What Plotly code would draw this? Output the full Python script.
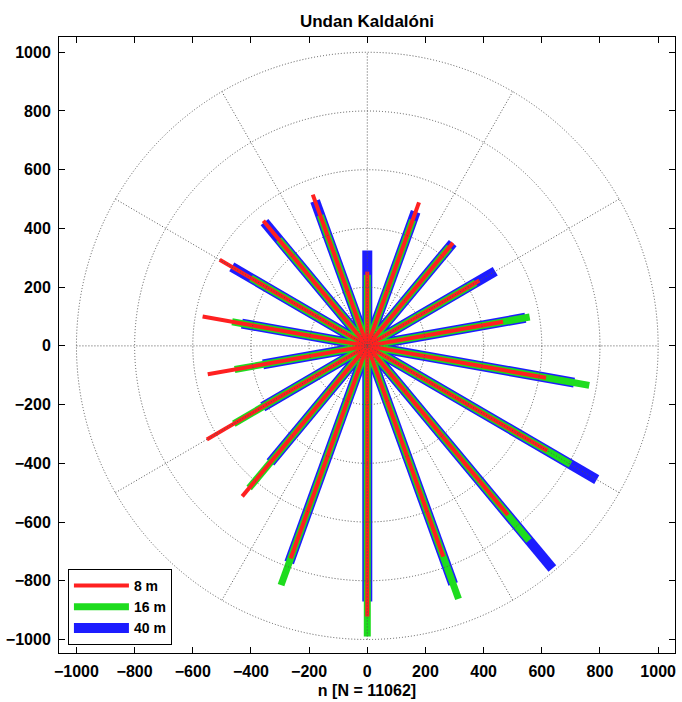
import numpy as np
import plotly.graph_objects as go

# Direction of each ray, degrees counter-clockwise from the +x axis
angle_deg = [10, 30, 50, 70, 90, 110, 130, 150, 170,
             190, 210, 230, 250, 270, 290, 310, 330, 350]

# Ray lengths (count n) for each height
len_8m = [474, 445, 458, 520, 253, 548, 556, 586, 575,
          557, 637, 669, 770, 922, 764, 752, 715, 624]
len_16m = [567, 430, 440, 456, 242, 473, 473, 462, 472,
           463, 530, 632, 867, 990, 917, 865, 807, 775]
len_40m = [552, 508, 457, 486, 325, 525, 550, 538, 438,
           364, 415, 518, 785, 871, 863, 990, 911, 722]

series_names = ["40 m", "16 m", "8 m"]
tick_vals = [-1000, -800, -600, -400, -200, 0, 200, 400, 600, 800, 1000]
ring_radii = [200, 400, 600, 800, 1000]
spoke_angles = [0, 30, 60, 90, 120, 150]

FONT = "Arial, Liberation Sans, sans-serif"


def rays(lengths):
    xs, ys = [], []
    th = np.deg2rad(angle_deg)
    for t, r in zip(th, lengths):
        xs += [0, r * np.cos(t), None]
        ys += [0, r * np.sin(t), None]
    return xs, ys


fig = go.Figure()
styles = [("#1c1cff", 10), ("#1edc1e", 7), ("#ff2020", 4)]
for name, data, (col, w) in zip(series_names, [len_40m, len_16m, len_8m], styles):
    xs, ys = rays(data)
    fig.add_trace(go.Scatter(x=xs, y=ys, mode="lines", name=name,
                             line=dict(color=col, width=w),
                             hoverinfo="skip"))

# polar grid: dotted rings and spokes
grid_line = dict(color="rgb(85,85,85)", width=1, dash="1px,2px")
for r in ring_radii:
    fig.add_shape(type="circle", xref="x", yref="y", x0=-r, y0=-r, x1=r, y1=r,
                  line=grid_line, layer="above")
rmax = ring_radii[-1]
for a in spoke_angles:
    t = np.deg2rad(a)
    fig.add_shape(type="line", xref="x", yref="y",
                  x0=-rmax * np.cos(t), y0=-rmax * np.sin(t),
                  x1=rmax * np.cos(t), y1=rmax * np.sin(t),
                  line=grid_line, layer="above")

axis_common = dict(
    tickvals=tick_vals, ticks="inside", ticklen=6, tickcolor="black",
    showline=True, linecolor="black", linewidth=1, mirror="ticks",
    showgrid=False, zeroline=False,
    tickfont=dict(family=FONT, size=16, color="black", weight="bold"),
)

fig.update_layout(
    width=682, height=702,
    margin=dict(l=57, r=6, t=37, b=49),
    paper_bgcolor="white", plot_bgcolor="white",
    title=dict(text="Undan Kaldalóni", x=0.5, xanchor="center",
               y=1 - 21 / 702, yanchor="middle", xref="paper",
               font=dict(family=FONT, size=17, color="black", weight="bold")),
    xaxis=dict(range=[-1060, 1058], ticklabelstandoff=4,
               title=dict(text="n [N = 11062]", standoff=5,
                          font=dict(family=FONT, size=16, color="black", weight="bold")),
               **axis_common),
    yaxis=dict(range=[-1046, 1052], ticklabelstandoff=4, **axis_common),
    legend=dict(x=0.0145, y=0.013, xanchor="left", yanchor="bottom",
                bgcolor="white", bordercolor="black", borderwidth=1,
                traceorder="reversed", itemwidth=55, tracegroupgap=0,
                font=dict(family=FONT, size=14, color="black", weight="bold")),
    showlegend=True,
)

fig.write_html("out.html")
